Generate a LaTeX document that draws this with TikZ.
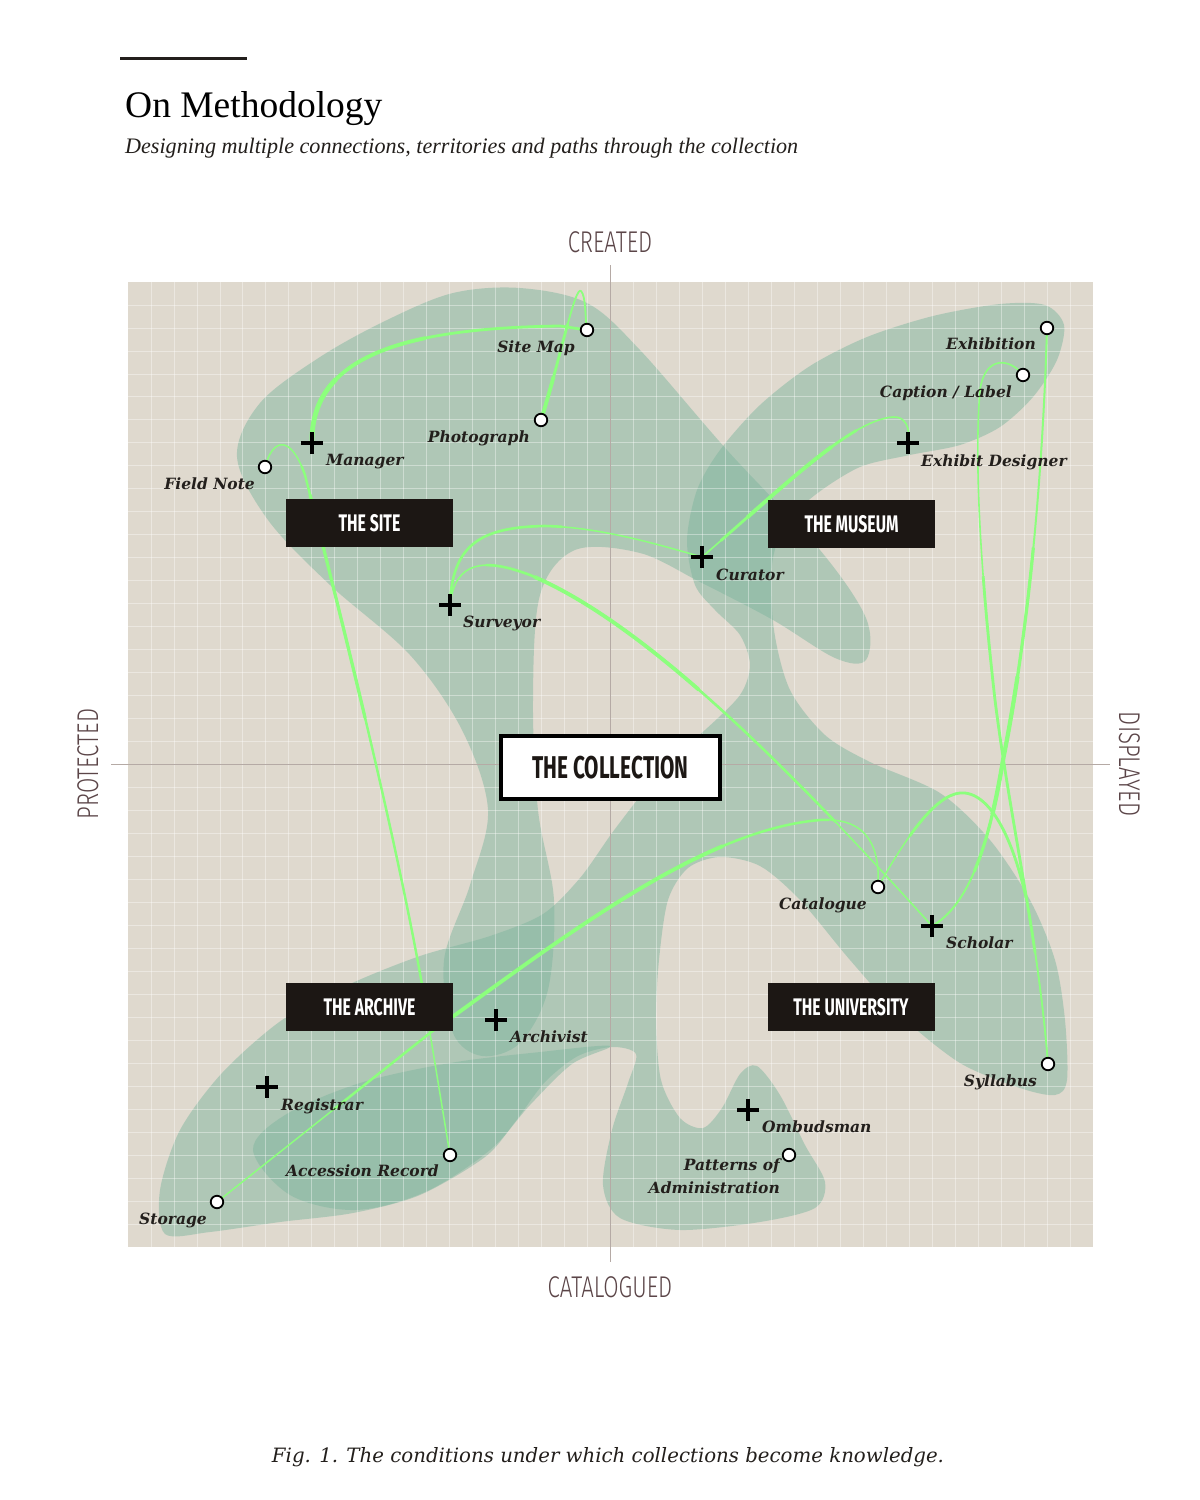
\documentclass[tikz,border=0pt]{standalone}
\usepackage{fontspec}
\setmainfont{Liberation Serif}
\newfontfamily\labelfont{DejaVu Serif}
\newfontfamily\boxfont{Fira Sans}[FakeStretch=0.66]
\newfontfamily\axisfont{Fira Sans Light}[FakeStretch=0.74]
\usetikzlibrary{calc}
\definecolor{paper}{RGB}{223,217,206}
\definecolor{blobc}{RGB}{129,183,160}
\definecolor{ink}{RGB}{35,31,28}
\definecolor{boxc}{RGB}{28,23,20}
\definecolor{axisc}{RGB}{181,170,165}
\definecolor{axistext}{RGB}{91,69,72}
\definecolor{linec}{RGB}{140,255,125}
\pgfdeclarelayer{bg}
\pgfdeclarelayer{lines}
\pgfsetlayers{bg,lines,main}
\tikzset{
  blob/.style={fill=blobc, fill opacity=0.5},
  dotnode/.style={circle, draw=black, fill=white, line width=1.8pt, minimum size=12.5pt, inner sep=0pt},
  plusmark/.style={minimum size=22pt, inner sep=0pt,
     path picture={\draw[line width=3.2pt, black]
        (path picture bounding box.north) -- (path picture bounding box.south)
        (path picture bounding box.west) -- (path picture bounding box.east);}},
  lbl/.style={font=\labelfont\bfseries\itshape\fontsize{15.5}{23}\selectfont, text=ink, inner sep=0pt},
  darkbox/.style={fill=boxc, text=white, minimum width=167pt, minimum height=48pt, inner sep=0pt,
     font=\boxfont\bfseries\fontsize{24}{24}\selectfont},
  axislbl/.style={text=axistext, inner sep=0pt, font=\axisfont\fontsize{30}{30}\selectfont},
  conn/.style={draw=linec, line cap=round, line join=round},
  thick seg/.style n args={3}{postaction={draw=linec, line cap=butt, line width=#1,
     dash pattern=on 0pt off #2 on #3 off 5000pt}},
}
\begin{document}
\begin{tikzpicture}[x=1pt,y=-1pt]
\useasboundingbox (0,0) rectangle (1200,1500);

\begin{pgfonlayer}{bg}
\fill[white] (0,0) rectangle (1200,1500);
% plot background
\fill[paper] (128,282) rectangle (1093,1247);
% blobs
\begin{scope}
\clip (128,282) rectangle (1093,1247);
% site blob with tongue and leg
\fill[blob] plot[smooth cycle, tension=0.55] coordinates {
 (520,288) (587,303) (640,350) (727,450) (820,550) (866,618) (866,660) (835,658) (773,620) (700,582)
 (640,553) (575,550) (540,595) (533,700) (538,810) (554,900) (548,990) (520,1043) (482,1056)
 (453,1033) (444,960) (470,885) (488,810) (462,730) (410,655) (330,585) (268,520) (237,457)
 (260,403) (320,357) (387,320) (453,293)};
% museum / collection / university / patterns / archive shape
\fill[blob] plot[smooth cycle, tension=0.5] coordinates {
 (687,540) (697,490) (720,450) (760,405) (810,366) (867,337) (933,316) (1000,304) (1045,305)
 (1064,325) (1057,360) (1033,397) (1000,427) (960,445) (910,455) (860,467) (815,495) (785,525)
 (772,565) (774,630) (790,690) (825,735) (870,762) (940,793) (990,840) (1030,900) (1055,960)
 (1065,1020) (1067,1080) (1055,1095) (1020,1088) (960,1063) (900,1015) (850,960) (800,900)
 (760,866) (720,857) (688,868) (668,900) (659,960) (656,1020) (661,1080) (680,1118) (703,1128)
 (722,1108) (740,1074) (757,1066) (780,1095) (805,1145) (825,1182) (815,1208) (760,1222)
 (680,1230) (620,1218) (603,1185) (612,1130) (628,1083) (636,1054) (612,1047) (578,1056)
 (545,1082) (515,1122) (485,1157) (420,1195) (353,1213) (280,1222) (210,1232) (165,1234)
 (160,1190) (180,1130) (222,1073) (282,1020) (350,984) (420,956) (490,936) (543,914)
 (580,878) (612,833) (645,790) (673,757) (705,730) (740,695) (750,665) (740,635) (715,610)
 (695,585)};
% lower archive band (darker overlap)
\fill[blob] plot[smooth cycle, tension=0.55] coordinates {
 (253,1150) (285,1115) (360,1083) (450,1063) (540,1052) (610,1046) (572,1064) (530,1105)
 (490,1150) (425,1192) (355,1210) (290,1195)};
\end{scope}
% grid
\begin{scope}[draw=white, draw opacity=0.38, line width=0.8pt]
\foreach \i in {1,...,41} {
  \draw (128+\i*22.976,282) -- (128+\i*22.976,1247);
  \draw (128,282+\i*22.976) -- (1093,282+\i*22.976);
}
\end{scope}
% axes
\draw[axisc, line width=1pt] (610,265) -- (610,1262);
\draw[axisc, line width=1pt] (111,764) -- (1110,764);
\end{pgfonlayer}

% header
\draw[ink, line width=3pt] (120,58) -- (247,58);
\node[anchor=base west, inner sep=0pt, text=black, font=\fontsize{37.5}{37.5}\selectfont] (title) at (125,117) {On Methodology};
\node[anchor=base west, inner sep=0pt, text=ink, font=\itshape\fontsize{22}{22}\selectfont] (subtitle) at (125,153)
  {\resizebox{673pt}{!}{Designing multiple connections, territories and paths through the collection}};

% axis labels
\node[axislbl, anchor=base] (created) at (610,252) {CREATED};
\node[axislbl, anchor=base] (catalogued) at (610,1297) {CATALOGUED};
\node[axislbl, anchor=base, rotate=90] (protected) at (98,764) {PROTECTED};
\node[axislbl, anchor=base, rotate=-90] (displayed) at (1119,764) {DISPLAYED};

% territory boxes
\node[darkbox] (site) at (369.5,523) {THE SITE};
\node[darkbox] (museum) at (851.5,524) {THE MUSEUM};
\node[darkbox] (archive) at (369.5,1007) {THE ARCHIVE};
\node[darkbox] (university) at (851,1007) {THE UNIVERSITY};
\node[draw=black, line width=4pt, fill=white, minimum width=219pt, minimum height=63pt, inner sep=0pt,
      font=\boxfont\bfseries\fontsize{31.5}{31.5}\selectfont, text=boxc] (collection) at (610.5,767.5) {THE COLLECTION};

% points
\node[dotnode] (sitemap) at (587,330) {};
\node[dotnode] (photograph) at (541,420) {};
\node[plusmark] (manager) at (312,443) {};
\node[dotnode] (fieldnote) at (265,467) {};
\node[plusmark] (surveyor) at (450,605) {};
\node[plusmark] (curator) at (702,557) {};
\node[plusmark] (designer) at (908,443) {};
\node[dotnode] (exhibition) at (1047,328) {};
\node[dotnode] (caption) at (1023,375) {};
\node[dotnode] (catalogue) at (878,887) {};
\node[plusmark] (scholar) at (932,926) {};
\node[dotnode] (syllabus) at (1048,1064) {};
\node[plusmark] (archivist) at (496,1020) {};
\node[plusmark] (registrar) at (267,1087) {};
\node[dotnode] (accession) at (450,1155) {};
\node[dotnode] (storage) at (217,1202) {};
\node[plusmark] (ombudsman) at (748,1110) {};
\node[dotnode] (patterns) at (789,1155) {};

% labels
\node[lbl, anchor=base east] (lsitemap) at (575,352) {Site Map};
\node[lbl, anchor=base east] (lphotograph) at (530,442) {Photograph};
\node[lbl, anchor=base west] (lmanager) at (326,465) {Manager};
\node[lbl, anchor=base east] (lfieldnote) at (255,489) {Field Note};
\node[lbl, anchor=base west] (lsurveyor) at (463,627) {Surveyor};
\node[lbl, anchor=base west] (lcurator) at (716,580) {Curator};
\node[lbl, anchor=base west] (ldesigner) at (921,466) {Exhibit Designer};
\node[lbl, anchor=base east] (lexhibition) at (1036,349) {Exhibition};
\node[lbl, anchor=base east] (lcaption) at (1012,397) {Caption / Label};
\node[lbl, anchor=base east] (lcatalogue) at (867,909) {Catalogue};
\node[lbl, anchor=base west] (lscholar) at (946,948) {Scholar};
\node[lbl, anchor=base east] (lsyllabus) at (1037,1086) {Syllabus};
\node[lbl, anchor=base west] (larchivist) at (510,1042) {Archivist};
\node[lbl, anchor=base west] (lregistrar) at (281,1110) {Registrar};
\node[lbl, anchor=base east] (laccession) at (439,1176) {Accession Record};
\node[lbl, anchor=base east] (lstorage) at (207,1224) {Storage};
\node[lbl, anchor=base west] (lombudsman) at (762,1132) {Ombudsman};
\node[lbl, anchor=east, align=right] (lpatterns) at (780,1176) {Patterns of\\Administration};

% caption
\node[anchor=base, inner sep=0pt, text=ink, font=\labelfont\itshape\fontsize{19}{19}\selectfont] (figcaption) at (608,1462)
  {\resizebox{672pt}{!}{Fig. 1. The conditions under which collections become knowledge.}};

% connectors
\begin{pgfonlayer}{lines}
\draw[conn, line width=2.8pt, thick seg={3.8pt}{0pt}{170pt}, thick seg={4.8pt}{0pt}{70pt}]
  (manager.center) .. controls (310,350) and (420,328) .. (560,326) -- (sitemap.center);
\draw[conn, line width=1.8pt, thick seg={2.8pt}{0pt}{100pt}, thick seg={3.8pt}{0pt}{45pt}]
  (photograph.center) .. controls (560,360) and (575,285) .. (581,291)
   .. controls (586,296) and (585,318) .. (sitemap.center);
\draw[conn, line width=1.5pt, thick seg={2.4pt}{60pt}{560pt}, thick seg={3.2pt}{90pt}{230pt}]
  (fieldnote.center) .. controls (272,440) and (290,432) .. (305,475)
   .. controls (360,690) and (410,900) .. (430,1033) -- (accession.center);
\draw[conn, line width=1.5pt, thick seg={2.5pt}{150pt}{580pt}, thick seg={3.8pt}{300pt}{320pt}]
  (storage.center) -- (430,1033) .. controls (560,940) and (700,830) .. (820,820)
   .. controls (870,817) and (880,850) .. (catalogue.center);
\draw[conn, line width=1.5pt, thick seg={2.6pt}{0pt}{160pt}]
  (surveyor.center) .. controls (452,545) and (480,527) .. (545,526)
   .. controls (600,527) and (660,545) .. (curator.center);
\draw[conn, line width=1.6pt, thick seg={2.6pt}{60pt}{440pt}, thick seg={3.8pt}{110pt}{200pt}]
  (surveyor.center) .. controls (455,560) and (485,558) .. (530,575)
   .. controls (650,625) and (800,780) .. (scholar.center);
\draw[conn, line width=1.6pt, thick seg={2.8pt}{25pt}{175pt}, thick seg={3.8pt}{60pt}{110pt}]
  (curator.center) .. controls (780,490) and (850,420) .. (893,417)
   .. controls (905,416) and (911,428) .. (designer.center);
\draw[conn, line width=1.5pt, thick seg={2.8pt}{60pt}{200pt}]
  (catalogue.center) .. controls (910,830) and (940,790) .. (965,793)
   .. controls (1000,797) and (1025,870) .. (1035,950) .. controls (1042,1000) and (1046,1040) .. (syllabus.center);
\draw[conn, line width=2pt, thick seg={3.2pt}{220pt}{330pt}, thick seg={4.2pt}{350pt}{140pt}]
  (exhibition.center) .. controls (1042,500) and (1025,650) .. (1003,760)
   .. controls (990,840) and (970,905) .. (scholar.center);
\draw[conn, line width=1.6pt, thick seg={2.8pt}{250pt}{380pt}]
  (caption.center) .. controls (1010,358) and (985,355) .. (980,390)
   .. controls (975,450) and (978,550) .. (995,700) .. controls (1010,820) and (1040,950) .. (syllabus.center);
\end{pgfonlayer}
\end{tikzpicture}
\end{document}
